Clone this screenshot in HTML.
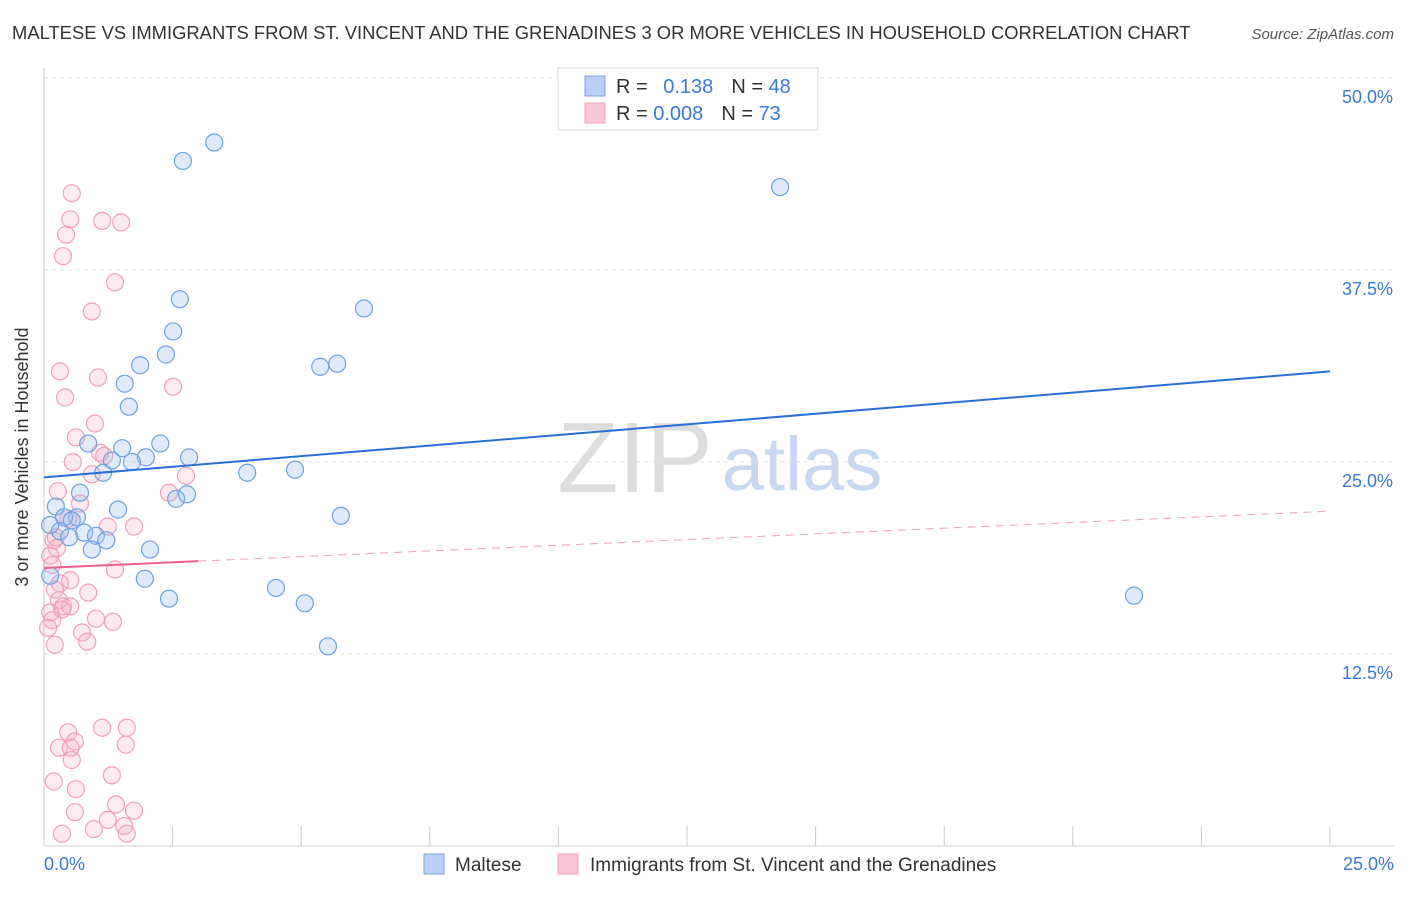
<!DOCTYPE html>
<html><head><meta charset="utf-8"><style>
body{margin:0;background:#fff;font-family:"Liberation Sans",sans-serif;}
svg text{font-family:"Liberation Sans",sans-serif;}
</style></head><body>
<svg id="chart" width="1406" height="892">
<text x="12" y="39" font-size="18.4" fill="#333">MALTESE VS IMMIGRANTS FROM ST. VINCENT AND THE GRENADINES 3 OR MORE VEHICLES IN HOUSEHOLD CORRELATION CHART</text>
<text x="1394" y="39" font-size="15" fill="#555" font-style="italic" text-anchor="end">Source: ZipAtlas.com</text>
<text x="28" y="457" font-size="18" fill="#333" text-anchor="middle" transform="rotate(-90 28 457)">3 or more Vehicles in Household</text>
<g id="grid"></g>
<g><text x="635" y="492" font-size="100" fill="#ddd" font-family="Liberation Serif" text-anchor="middle">ZIP</text><text x="802" y="490" font-size="76" fill="#c8d8f0" text-anchor="middle">atlas</text></g>
<g id="marks"></g>
<g>
<rect x="558" y="68" width="260" height="62" fill="#fff" stroke="#ddd"/>
<rect x="585" y="76" width="20" height="20" fill="#b8d0f5" stroke="#7aa5e0"/>
<rect x="585" y="103" width="20" height="20" fill="#fac8d8" stroke="#f0a0bb"/>
<text x="616" y="93" font-size="20" fill="#333">R = <tspan fill="#3a78d8" dx="10">0.138</tspan><tspan dx="18" fill="#333">N = </tspan><tspan fill="#3a78d8">48</tspan></text>
<text x="616" y="120" font-size="20" fill="#333">R = <tspan fill="#3a78d8">0.008</tspan><tspan dx="18" fill="#333">N = </tspan><tspan fill="#3a78d8">73</tspan></text>
</g>
<g>
<rect x="424" y="854" width="20" height="20" fill="#b8d0f5" stroke="#7aa5e0"/>
<text x="455" y="871" font-size="19" fill="#333">Maltese</text>
<rect x="558" y="854" width="20" height="20" fill="#fac8d8" stroke="#f0a0bb"/>
<text x="590" y="871" font-size="19" fill="#333">Immigrants from St. Vincent and the Grenadines</text>
</g>
</svg>
<script>
const yTicks=[12.5,25,37.5,50];
const xTickLabels=["0.0%","25.0%"];
const blueX=[3.31,2.70,14.31,2.64,6.22,2.51,2.37,1.87,5.37,5.70,1.57,1.65,0.86,1.52,2.26,2.82,1.98,1.32,1.71,1.15,3.95,4.88,0.70,2.57,2.78,0.23,1.44,5.77,0.64,0.39,0.54,0.31,0.78,1.01,0.49,1.21,0.93,2.06,1.96,4.51,5.07,2.43,5.52,21.19,0.12,0.12];
const blueY=[45.8,44.6,42.9,35.6,35.0,33.5,32.0,31.3,31.2,31.4,30.1,28.6,26.2,25.9,26.2,25.3,25.3,25.1,25.0,24.3,24.3,24.5,23.0,22.6,22.9,22.1,21.9,21.5,21.4,21.4,21.2,20.5,20.4,20.2,20.1,19.9,19.3,19.3,17.4,16.8,15.8,16.1,13.0,16.3,20.9,17.6];
const pinkX=[0.54,0.51,1.13,1.50,0.43,0.37,1.38,0.93,0.31,1.05,2.51,0.41,0.99,0.62,1.09,1.17,0.56,0.93,2.76,2.43,0.27,0.70,1.24,1.75,0.47,0.23,0.19,0.25,0.12,1.38,0.16,0.51,0.31,0.86,0.29,0.37,0.51,0.12,0.35,1.01,1.34,0.16,0.08,0.74,0.84,0.21,0.47,1.13,1.61,0.60,1.59,0.29,0.52,0.54,1.32,0.19,0.62,1.40,0.60,1.75,1.24,1.56,0.97,0.35,1.61,0.21];
const pinkY=[42.5,40.8,40.7,40.6,39.8,38.4,36.7,34.8,30.9,30.5,29.9,29.2,27.5,26.6,25.6,25.4,25.0,24.2,24.1,23.0,23.1,22.3,20.8,20.8,21.3,20.1,19.9,19.4,18.9,18.0,18.3,17.3,17.1,16.5,16.0,15.6,15.6,15.2,15.4,14.8,14.6,14.7,14.2,13.9,13.3,13.1,7.4,7.7,7.7,6.8,6.6,6.4,6.4,5.6,4.6,4.2,3.7,2.7,2.2,2.3,1.7,1.3,1.1,0.8,0.8,16.7];
const blueTrend=[24.0,30.9];
const pinkTrend=[18.1,21.8];
const pinkSolidEnd=3.0;
const NS="http://www.w3.org/2000/svg";
const X=v=>44+v/25*1286;
const Y=v=>846-v/12.5*192;
function mk(t,a,p){const e=document.createElementNS(NS,t);for(const k in a)e.setAttribute(k,a[k]);p.appendChild(e);return e;}
const grid=document.getElementById('grid'),marks=document.getElementById('marks');
yTicks.forEach(t=>{
 const l=mk('line',{x1:44,x2:1394,y1:Y(t),y2:Y(t),stroke:'#e4e4e4','stroke-dasharray':'4,4'},grid);
 
 
 const tx=mk('text',{x:1393,y:Y(t)+25,'font-size':18,fill:'#3a78d8','text-anchor':'end'},grid);
 tx.textContent=t.toFixed(1)+'%';
 
 
});
const ax=mk('line',{x1:44,x2:1394,y1:846,y2:846,stroke:'#ccc'},grid);


const ay=mk('line',{x1:44,x2:44,y1:68,y2:846,stroke:'#ccc'},grid);


for(let i=0;i<=10;i++){const tk=mk('line',{x1:X(i*2.5),x2:X(i*2.5),y1:826,y2:846,stroke:'#ccc'},grid);
 
 }
xTickLabels.forEach((s,i)=>{const tx=mk('text',{x:i?1394:44,y:870,'font-size':18,fill:'#3a78d8','text-anchor':i?'end':'start'},grid);tx.textContent=s;
 
 });
pinkX.forEach((x,i)=>{const c=mk('circle',{cx:X(x),cy:Y(pinkY[i]),r:8.5,fill:'rgba(245,170,195,0.25)',stroke:'#f0a0bb','stroke-width':1.2},marks);
 
 });
blueX.forEach((x,i)=>{const c=mk('circle',{cx:X(x),cy:Y(blueY[i]),r:8.5,fill:'rgba(150,190,240,0.3)',stroke:'#6fa0e0','stroke-width':1.2},marks);
 
 });
const bl=mk('line',{x1:X(0),y1:Y(blueTrend[0]),x2:X(25),y2:Y(blueTrend[1]),stroke:'#2a6fd6','stroke-width':2},marks);


const pm=pinkTrend[0]+(pinkTrend[1]-pinkTrend[0])*pinkSolidEnd/25;
const pl=mk('line',{x1:X(0),y1:Y(pinkTrend[0]),x2:X(pinkSolidEnd),y2:Y(pm),stroke:'#e8608a','stroke-width':2},marks);


const pd=mk('line',{x1:X(pinkSolidEnd),y1:Y(pm),x2:X(25),y2:Y(pinkTrend[1]),stroke:'#e8a0b8','stroke-width':1,'stroke-dasharray':'8,6'},marks);


</script>
</body></html>
